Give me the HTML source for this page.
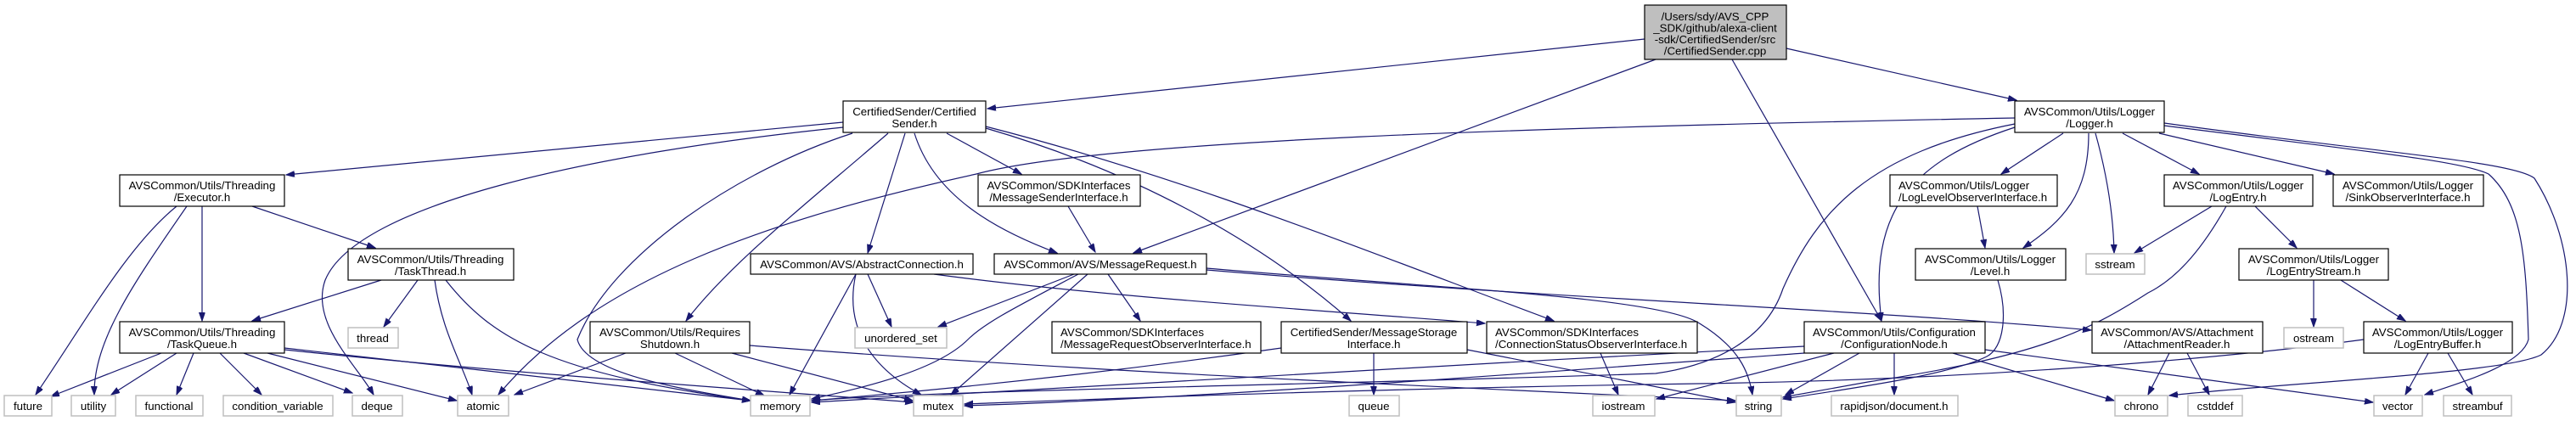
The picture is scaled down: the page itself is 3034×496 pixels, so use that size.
<!DOCTYPE html>
<html><head><meta charset="utf-8"><style>
html,body{margin:0;padding:0;background:#fff;}
svg{display:block;}
text{font-family:"Liberation Sans",Arial,sans-serif;font-size:13.3px;fill:#000;}
.n{fill:#fff;stroke:#000;stroke-width:1.2;}
.l{fill:#fff;stroke:#bfbfbf;stroke-width:1.5;}
.e{fill:none;stroke:#191970;stroke-width:1.2;marker-end:url(#a);}
</style></head><body>
<svg width="3034" height="496" viewBox="0 0 3034 496" xmlns="http://www.w3.org/2000/svg">
<defs><marker id="a" markerUnits="userSpaceOnUse" markerWidth="11" markerHeight="8" refX="10" refY="3.5" orient="auto"><path d="M0,0 L10,3.5 L0,7 z" fill="#191970" stroke="#191970"/></marker></defs>
<g>
<path class="e" d="M1937,46 L1163,128"/>
<path class="e" d="M1950,70 L1335,298"/>
<path class="e" d="M2040,70 L2216,378"/>
<path class="e" d="M2104,57 L2375,118"/>
<path class="e" d="M993,144 L337,206"/>
<path class="e" d="M993,150 C700,180 420,240 383,330 C365,380 420,430 440,465"/>
<path class="e" d="M1004,157 C870,200 720,300 680,400 C690,440 800,458 884,472"/>
<path class="e" d="M1046,157 C950,240 860,310 808,378"/>
<path class="e" d="M1066,157 L1022,298"/>
<path class="e" d="M1077,157 C1100,230 1170,270 1245,298"/>
<path class="e" d="M1115,157 L1203,205"/>
<path class="e" d="M1161,151 C1330,200 1480,280 1591,378"/>
<path class="e" d="M1161,149 C1400,210 1620,300 1830,378"/>
<path class="e" d="M2373,139 C1800,150 1300,165 1150,205 C900,260 700,330 587,465"/>
<path class="e" d="M2373,146 C2200,180 2140,250 2100,340 C2080,400 2020,430 1950,440 C1500,455 1100,460 956,472"/>
<path class="e" d="M2373,150 C2250,190 2200,250 2216,378"/>
<path class="e" d="M2430,157 L2357,205"/>
<path class="e" d="M2460,157 C2460,230 2430,260 2383,292"/>
<path class="e" d="M2468,157 C2480,200 2489,250 2490,298"/>
<path class="e" d="M2500,157 L2590,205"/>
<path class="e" d="M2543,157 L2749,205"/>
<path class="e" d="M2549,145 C2800,180 2960,190 2985,210 C3030,280 3040,380 2993,418 C2950,440 2700,450 2555,466"/>
<path class="e" d="M2549,148 C2800,180 2900,190 2931,205 C2970,240 2975,300 2978,400 C2970,430 2900,450 2856,465"/>
<path class="e" d="M2329,243 L2338,292"/>
<path class="e" d="M2353,330 C2365,370 2360,410 2340,420 C2300,440 2200,455 2100,470"/>
<path class="e" d="M2605,243 L2514,298"/>
<path class="e" d="M2622,243 C2590,300 2560,330 2530,345 C2460,390 2400,420 2200,450 L2100,468"/>
<path class="e" d="M2656,243 L2705,292"/>
<path class="e" d="M2725,330 L2725,385"/>
<path class="e" d="M2757,330 L2833,378"/>
<path class="e" d="M2860,416 L2833,465"/>
<path class="e" d="M2883,416 L2912,465"/>
<path class="e" d="M2784,400 C2600,425 2300,448 2000,452 C1600,458 1300,470 1136,476"/>
<path class="e" d="M2555,416 L2530,465"/>
<path class="e" d="M2576,416 L2602,465"/>
<path class="e" d="M2231,416 L2231,465"/>
<path class="e" d="M2300,416 L2490,472"/>
<path class="e" d="M2338,412 L2795,474"/>
<path class="e" d="M2190,416 L2103,465"/>
<path class="e" d="M2160,416 L1951,470"/>
<path class="e" d="M2125,408 C1700,430 1200,460 956,474"/>
<path class="e" d="M2125,416 C1800,440 1400,470 1136,478"/>
<path class="e" d="M1265,323 L1105,385"/>
<path class="e" d="M1270,323 C1200,360 1160,380 1140,400 C1100,440 1000,460 956,470"/>
<path class="e" d="M1281,323 L1120,465"/>
<path class="e" d="M1305,323 L1343,378"/>
<path class="e" d="M1421,316 C1700,340 1950,350 2000,380 C2050,410 2060,440 2064,465"/>
<path class="e" d="M1421,318 C1800,350 2200,365 2463,389"/>
<path class="e" d="M1022,323 L1050,385"/>
<path class="e" d="M1008,323 L930,465"/>
<path class="e" d="M1008,323 C995,380 1020,430 1085,465"/>
<path class="e" d="M1100,323 C1300,350 1550,365 1749,381"/>
<path class="e" d="M1258,243 L1290,297"/>
<path class="e" d="M1885,416 L1906,465"/>
<path class="e" d="M1618,416 L1618,465"/>
<path class="e" d="M1728,412 L2044,474"/>
<path class="e" d="M1509,410 C1300,440 1100,460 956,472"/>
<path class="e" d="M737,416 L606,465"/>
<path class="e" d="M795,416 L900,466"/>
<path class="e" d="M862,416 L1075,472"/>
<path class="e" d="M883,407 C1300,440 1800,460 2044,472"/>
<path class="e" d="M208,243 C150,290 100,380 42,465"/>
<path class="e" d="M220,243 C160,330 110,400 111,465"/>
<path class="e" d="M238,243 L238,378"/>
<path class="e" d="M297,243 L442,292"/>
<path class="e" d="M449,330 L297,378"/>
<path class="e" d="M492,330 L452,385"/>
<path class="e" d="M512,330 C520,390 545,430 556,465"/>
<path class="e" d="M525,330 C580,400 650,440 884,472"/>
<path class="e" d="M190,416 L60,467"/>
<path class="e" d="M208,416 L131,465"/>
<path class="e" d="M228,416 L208,465"/>
<path class="e" d="M259,416 L308,465"/>
<path class="e" d="M287,416 L415,463"/>
<path class="e" d="M315,416 L538,472"/>
<path class="e" d="M335,410 L884,472"/>
<path class="e" d="M335,412 C600,440 900,460 1076,474"/>
</g>
<g>
<rect x="1937" y="6" width="167" height="64" fill="#bfbfbf" stroke="#000" stroke-width="1.2"/>
<text x="2020" y="24" text-anchor="middle">/Users/sdy/AVS_CPP</text>
<text x="2020" y="37.5" text-anchor="middle">_SDK/github/alexa-client</text>
<text x="2020" y="51" text-anchor="middle">-sdk/CertifiedSender/src</text>
<text x="2020" y="64.5" text-anchor="middle">/CertifiedSender.cpp</text>

<rect class="n" x="993" y="119" width="168" height="37"/><text x="1077" y="136" text-anchor="middle">CertifiedSender/Certified</text><text x="1077" y="150" text-anchor="middle">Sender.h</text>
<rect class="n" x="2373" y="119" width="176" height="37"/><text x="2461" y="136" text-anchor="middle">AVSCommon/Utils/Logger</text><text x="2461" y="150" text-anchor="middle">/Logger.h</text>
<rect class="n" x="141" y="206" width="194" height="37"/><text x="238" y="223" text-anchor="middle">AVSCommon/Utils/Threading</text><text x="238" y="237" text-anchor="middle">/Executor.h</text>
<rect class="n" x="1152" y="206" width="191" height="37"/><text x="1247" y="223" text-anchor="middle">AVSCommon/SDKInterfaces</text><text x="1247" y="237" text-anchor="middle">/MessageSenderInterface.h</text>
<rect class="n" x="2226" y="206" width="197" height="37"/><text x="2236" y="223">AVSCommon/Utils/Logger</text><text x="2236" y="237">/LogLevelObserverInterface.h</text>
<rect class="n" x="2549" y="206" width="175" height="37"/><text x="2636" y="223" text-anchor="middle">AVSCommon/Utils/Logger</text><text x="2636" y="237" text-anchor="middle">/LogEntry.h</text>
<rect class="n" x="2748" y="206" width="177" height="37"/><text x="2836" y="223" text-anchor="middle">AVSCommon/Utils/Logger</text><text x="2836" y="237" text-anchor="middle">/SinkObserverInterface.h</text>
<rect class="n" x="410" y="293" width="195" height="37"/><text x="507" y="310" text-anchor="middle">AVSCommon/Utils/Threading</text><text x="507" y="324" text-anchor="middle">/TaskThread.h</text>
<rect class="n" x="884" y="299" width="262" height="24"/><text x="1015" y="316" text-anchor="middle">AVSCommon/AVS/AbstractConnection.h</text>
<rect class="n" x="1171" y="299" width="250" height="24"/><text x="1296" y="316" text-anchor="middle">AVSCommon/AVS/MessageRequest.h</text>
<rect class="n" x="2256" y="293" width="177" height="37"/><text x="2344" y="310" text-anchor="middle">AVSCommon/Utils/Logger</text><text x="2344" y="324" text-anchor="middle">/Level.h</text>
<rect class="l" x="2457" y="299" width="69" height="24"/><text x="2491" y="316" text-anchor="middle">sstream</text>
<rect class="n" x="2637" y="293" width="176" height="37"/><text x="2725" y="310" text-anchor="middle">AVSCommon/Utils/Logger</text><text x="2725" y="324" text-anchor="middle">/LogEntryStream.h</text>
<rect class="n" x="141" y="379" width="194" height="37"/><text x="238" y="396" text-anchor="middle">AVSCommon/Utils/Threading</text><text x="238" y="410" text-anchor="middle">/TaskQueue.h</text>
<rect class="l" x="410" y="386" width="59" height="24"/><text x="439" y="403" text-anchor="middle">thread</text>
<rect class="n" x="695" y="379" width="188" height="37"/><text x="789" y="396" text-anchor="middle">AVSCommon/Utils/Requires</text><text x="789" y="410" text-anchor="middle">Shutdown.h</text>
<rect class="l" x="1007" y="386" width="108" height="24"/><text x="1061" y="403" text-anchor="middle">unordered_set</text>
<rect class="n" x="1239" y="379" width="246" height="37"/><text x="1249" y="396">AVSCommon/SDKInterfaces</text><text x="1249" y="410">/MessageRequestObserverInterface.h</text>
<rect class="n" x="1509" y="379" width="219" height="37"/><text x="1618" y="396" text-anchor="middle">CertifiedSender/MessageStorage</text><text x="1618" y="410" text-anchor="middle">Interface.h</text>
<rect class="n" x="1751" y="379" width="248" height="37"/><text x="1761" y="396">AVSCommon/SDKInterfaces</text><text x="1761" y="410">/ConnectionStatusObserverInterface.h</text>
<rect class="n" x="2125" y="379" width="213" height="37"/><text x="2231" y="396" text-anchor="middle">AVSCommon/Utils/Configuration</text><text x="2231" y="410" text-anchor="middle">/ConfigurationNode.h</text>
<rect class="n" x="2464" y="379" width="201" height="37"/><text x="2564" y="396" text-anchor="middle">AVSCommon/AVS/Attachment</text><text x="2564" y="410" text-anchor="middle">/AttachmentReader.h</text>
<rect class="l" x="2690" y="386" width="70" height="24"/><text x="2725" y="403" text-anchor="middle">ostream</text>
<rect class="n" x="2784" y="379" width="175" height="37"/><text x="2871" y="396" text-anchor="middle">AVSCommon/Utils/Logger</text><text x="2871" y="410" text-anchor="middle">/LogEntryBuffer.h</text>

<rect class="l" x="5" y="466" width="56" height="24"/><text x="33" y="483" text-anchor="middle">future</text>
<rect class="l" x="84" y="466" width="52" height="24"/><text x="110" y="483" text-anchor="middle">utility</text>
<rect class="l" x="160" y="466" width="79" height="24"/><text x="199" y="483" text-anchor="middle">functional</text>
<rect class="l" x="263" y="466" width="129" height="24"/><text x="327" y="483" text-anchor="middle">condition_variable</text>
<rect class="l" x="415" y="466" width="59" height="24"/><text x="444" y="483" text-anchor="middle">deque</text>
<rect class="l" x="539" y="466" width="60" height="24"/><text x="569" y="483" text-anchor="middle">atomic</text>
<rect class="l" x="884" y="466" width="70" height="24"/><text x="919" y="483" text-anchor="middle">memory</text>
<rect class="l" x="1076" y="466" width="58" height="24"/><text x="1105" y="483" text-anchor="middle">mutex</text>
<rect class="l" x="1589" y="466" width="59" height="24"/><text x="1618" y="483" text-anchor="middle">queue</text>
<rect class="l" x="1876" y="466" width="73" height="24"/><text x="1912" y="483" text-anchor="middle">iostream</text>
<rect class="l" x="2045" y="466" width="53" height="24"/><text x="2071" y="483" text-anchor="middle">string</text>
<rect class="l" x="2157" y="466" width="149" height="24"/><text x="2231" y="483" text-anchor="middle">rapidjson/document.h</text>
<rect class="l" x="2491" y="466" width="62" height="24"/><text x="2522" y="483" text-anchor="middle">chrono</text>
<rect class="l" x="2577" y="466" width="64" height="24"/><text x="2609" y="483" text-anchor="middle">cstddef</text>
<rect class="l" x="2796" y="466" width="57" height="24"/><text x="2824" y="483" text-anchor="middle">vector</text>
<rect class="l" x="2878" y="466" width="80" height="24"/><text x="2918" y="483" text-anchor="middle">streambuf</text>
</g>
</svg>
</body></html>
